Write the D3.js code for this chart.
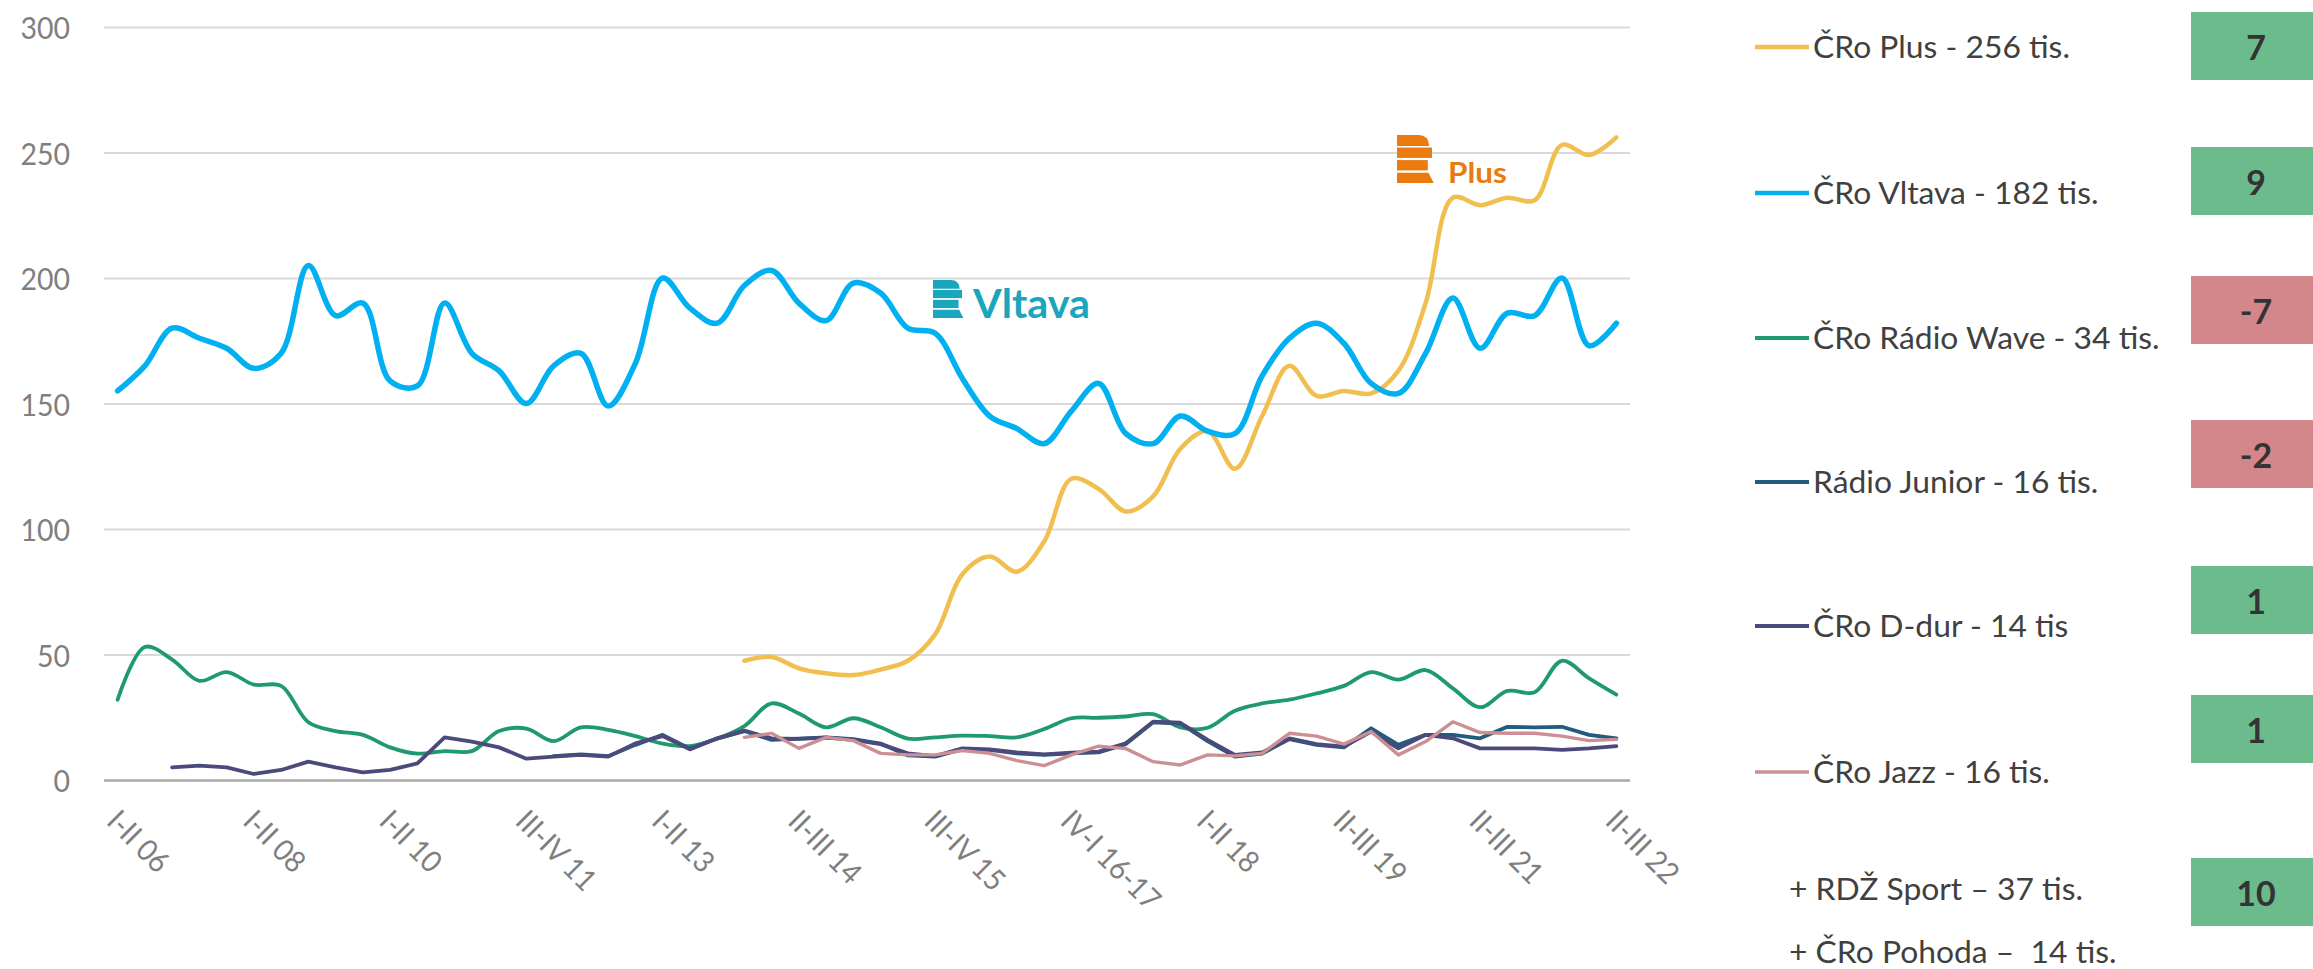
<!DOCTYPE html>
<html><head><meta charset="utf-8">
<script src="https://cdn.jsdelivr.net/npm/d3@7"></script>
<style>
html,body{margin:0;padding:0;background:#fff;}
svg{display:block;font-family:Lato,"Open Sans",sans-serif;}
text{white-space:pre;}
</style></head>
<body>
<svg id="chart" width="2313" height="969"></svg>
<script>
// ---------- DATA ----------
const tickLabels = ["I-II 06","I-II 08","I-II 10","III-IV 11","I-II 13","II-III 14","III-IV 15","IV-I 16-17","I-II 18","II-III 19","II-III 21","II-III 22"];
const nCategories = 56;
const categories = d3.range(nCategories);
const yTicks = [0,50,100,150,200,250,300];

const croPlus = [null,null,null,null,null,null,null,null,null,null,null,null,null,null,null,null,null,null,null,null,null,null,null,
  47.5,49,44.5,42.5,41.8,44,47.5,58,82,89,83,95,120,116,107,113,132,139,124,145,165,153,155,154,163,190,232,229,232,231,253,249,256];
const croVltava = [155,165,180,176,172,164,170,205,185,190,159,157,190,170,163,150,165,170,149,166,200,188,182,197,203,
  190,183,198,194,180,178,160,145,140,134,147,158,138,134,145,139,138,161,176,182,174,158,154,170,192,172,186,185,200,173,182];
const croWave = [32,53,48,39.5,43,38,37.5,23,19.5,18,13,10.5,11.5,11.5,19.5,20.5,15.5,21,20,17.5,14.5,13.5,16.5,21.5,30.5,
  26.5,21,24.6,21,16.5,17,17.7,17.5,17,20.3,24.6,24.8,25.3,26.2,21,20.8,27.6,30.5,32,34.5,37.5,43,40,43.8,36.5,29,35.5,35,47.5,40.5,34];
const radioJunior = [null,null,null,null,null,null,null,null,null,null,null,null,null,null,null,null,
  9.5,10.2,9.5,14,18,12.5,16.5,19.5,16,16.5,17,16.3,14.5,9.8,9.3,12.3,12,10.6,10,10.6,11,14.3,23,22.5,15.5,9.3,10.5,16.3,14,13,20.6,14,18,18,16.6,21.2,21,21.2,18,16.6];
const croDdur = [null,null,5,5.7,5,2.4,4,7.3,5,3,4,6.6,17,15.3,13,8.5,9.3,10,9.3,14.6,17.5,12.2,16.6,19.7,16.6,
  16.4,16.9,16,14.3,10.6,9.5,12.6,12.2,11,10.2,10.9,11.3,14.6,23.2,22.8,16,10,11,16.6,14.3,13.3,19.3,12.6,18,16.6,12.6,12.6,12.6,12,12.6,13.5];
const croJazz = [null,null,null,null,null,null,null,null,null,null,null,null,null,null,null,null,null,null,null,null,null,null,null,
  17,18.6,12.6,17,15.7,10.6,10,10,11.7,10.6,7.7,5.7,10,13.5,12.5,7.3,6,10,9.6,10.6,18.6,17.5,14.3,19.3,10,15.3,23.2,18.9,18.6,18.6,17.5,15.7,16.2];

const seriesNames = ["ČRo Plus - 256 tis.","ČRo Vltava - 182 tis.","ČRo Rádio Wave - 34 tis.","Rádio Junior - 16 tis.","ČRo D-dur - 14 tis","ČRo Jazz - 16 tis."];
const seriesValues = [croPlus, croVltava, croWave, radioJunior, croDdur, croJazz];
const extraNotes = ["+ RDŽ Sport – 37 tis.","+ ČRo Pohoda –  14 tis."];
const changeValues = [7, 9, -7, -2, 1, 1, 10];

// ---------- STYLE / LAYOUT ----------
const seriesColors = ["#F0BF50","#00B0F0","#1F9A6E","#1F5C7E","#4B4A7C","#CC9094"];
const seriesWidths = [4.5,5.5,3.8,3.8,3.8,3.4];
const seriesSmooth = [true,true,true,false,false,false];
const legendRowY = [47,193,338,482,626,772];
const noteBaselines = [900,963];
const boxTops = [12,147,276,420,566,695,858];
const legendFirstWidth = 257;

const svg = d3.select("#chart");
const plot = {left:104, right:1630, top:27, bottom:780};

const x = d3.scalePoint().domain(categories).range([plot.left, plot.right]).padding(0.5);
const y = d3.scaleLinear().domain([0,300]).range([plot.bottom, plot.top]);

// Y axis with gridlines
const yAxis = svg.append("g").attr("transform", `translate(${plot.left},0)`)
  .call(d3.axisLeft(y).tickValues(yTicks).tickSizeInner(-(plot.right-plot.left)).tickSizeOuter(0).tickFormat(d3.format("d")));
yAxis.select(".domain").remove();
yAxis.selectAll(".tick line").attr("stroke", d => d===0 ? "#a9a9a9" : "#d9d9d9").attr("stroke-width", d => d===0 ? 2.5 : 1.8);
yAxis.selectAll(".tick text").attr("x",null).attr("dy",null)
  .attr("transform","translate(-34,0) scale(0.95,1)")
  .attr("text-anchor","end").attr("dominant-baseline","central")
  .attr("fill","#7f7f7f").attr("font-size",30).attr("font-family","Lato");

// X axis
const xAxis = svg.append("g").attr("transform", `translate(0,${plot.bottom})`)
  .call(d3.axisBottom(x).tickValues(d3.range(0, nCategories, 5)).tickFormat(i => tickLabels[i/5]).tickSize(0));
xAxis.select(".domain").remove();
xAxis.selectAll(".tick text").attr("y",null).attr("dy",null)
  .attr("transform","translate(4,26) rotate(45) scale(0.93,1)")
  .attr("text-anchor","start").attr("dominant-baseline","hanging")
  .attr("fill","#7f7f7f").attr("font-size",30).attr("font-family","Lato");

// Lines
seriesValues.forEach((vals, k) => {
  const line = d3.line()
    .defined(d => d != null)
    .x((d,i) => x(i))
    .y(d => y(d))
    .curve(seriesSmooth[k] ? d3.curveCatmullRom.alpha(0.5) : d3.curveLinear);
  svg.append("path").datum(vals)
    .attr("fill","none").attr("stroke",seriesColors[k]).attr("stroke-width",seriesWidths[k])
    .attr("stroke-linejoin","round").attr("stroke-linecap","round")
    .attr("d", line);
});

// Logos
function radioIcon(g, x0, y0, w, h, color){
  const s = h/4.4;
  g.append("path").attr("fill",color)
    .attr("d",`M${x0},${y0} H${x0+w*0.62} Q${x0+w*0.9},${y0} ${x0+w*0.92},${y0+s} H${x0} Z`);
  g.append("rect").attr("x",x0).attr("y",y0+s*1.15).attr("width",w).attr("height",s*0.95).attr("fill",color);
  g.append("rect").attr("x",x0).attr("y",y0+s*2.3).attr("width",w*0.88).attr("height",s*0.95).attr("fill",color);
  g.append("path").attr("fill",color)
    .attr("d",`M${x0},${y0+s*3.45} H${x0+w*0.9} L${x0+w*1.05},${y0+h} H${x0} Z`);
}
const logoV = svg.append("g");
radioIcon(logoV, 933, 280, 29, 38, "#1AA6BC");
logoV.append("text").attr("x",973).attr("y",318).attr("font-family","Lato").attr("font-weight","bold")
  .attr("font-size",41).attr("fill","#1AA6BC").attr("textLength",117).attr("lengthAdjust","spacingAndGlyphs").text("Vltava");
const logoP = svg.append("g");
radioIcon(logoP, 1397, 135, 35, 48, "#E97B0F");
logoP.append("text").attr("x",1448).attr("y",183).attr("font-family","Lato").attr("font-weight","bold")
  .attr("font-size",28).attr("fill","#E97B0F").attr("textLength",59).attr("lengthAdjust","spacingAndGlyphs").text("Plus");

// Legend
const legend = svg.append("g");
const legendTexts = [];
seriesNames.forEach((name,k) => {
  const ly = legendRowY[k];
  legend.append("line").attr("x1",1755).attr("x2",1809).attr("y1",ly).attr("y2",ly)
    .attr("stroke",seriesColors[k]).attr("stroke-width",Math.min(seriesWidths[k],4.5));
  legendTexts.push(legend.append("text").datum({x:1813, y:ly+11})
    .attr("font-size",31).attr("fill","#404040").attr("font-family","Lato").text(name));
});
extraNotes.forEach((t,k) => {
  legendTexts.push(legend.append("text").datum({x:1789, y:noteBaselines[k]})
    .attr("font-size",31).attr("fill","#404040").attr("font-family","Lato").text(t));
});
const measured = legendTexts[0].node().getComputedTextLength();
let sx = measured > 0 ? legendFirstWidth / measured : 0.95;
sx = Math.max(0.8, Math.min(1.05, sx));
legendTexts.forEach(t => t.attr("transform", d => `translate(${d.x},${d.y}) scale(${sx},1)`));

// Change boxes
changeValues.forEach((v,k) => {
  svg.append("rect").attr("x",2191).attr("y",boxTops[k]).attr("width",125).attr("height",68)
    .attr("fill", v >= 0 ? "#6CBB8C" : "#D4878B");
  svg.append("text").attr("x",2256).attr("y",boxTops[k]+34).attr("text-anchor","middle")
    .attr("dominant-baseline","central").attr("font-family","Lato").attr("font-weight","bold")
    .attr("font-size",34).attr("fill","#333333").text(v);
});
</script>
</body></html>
